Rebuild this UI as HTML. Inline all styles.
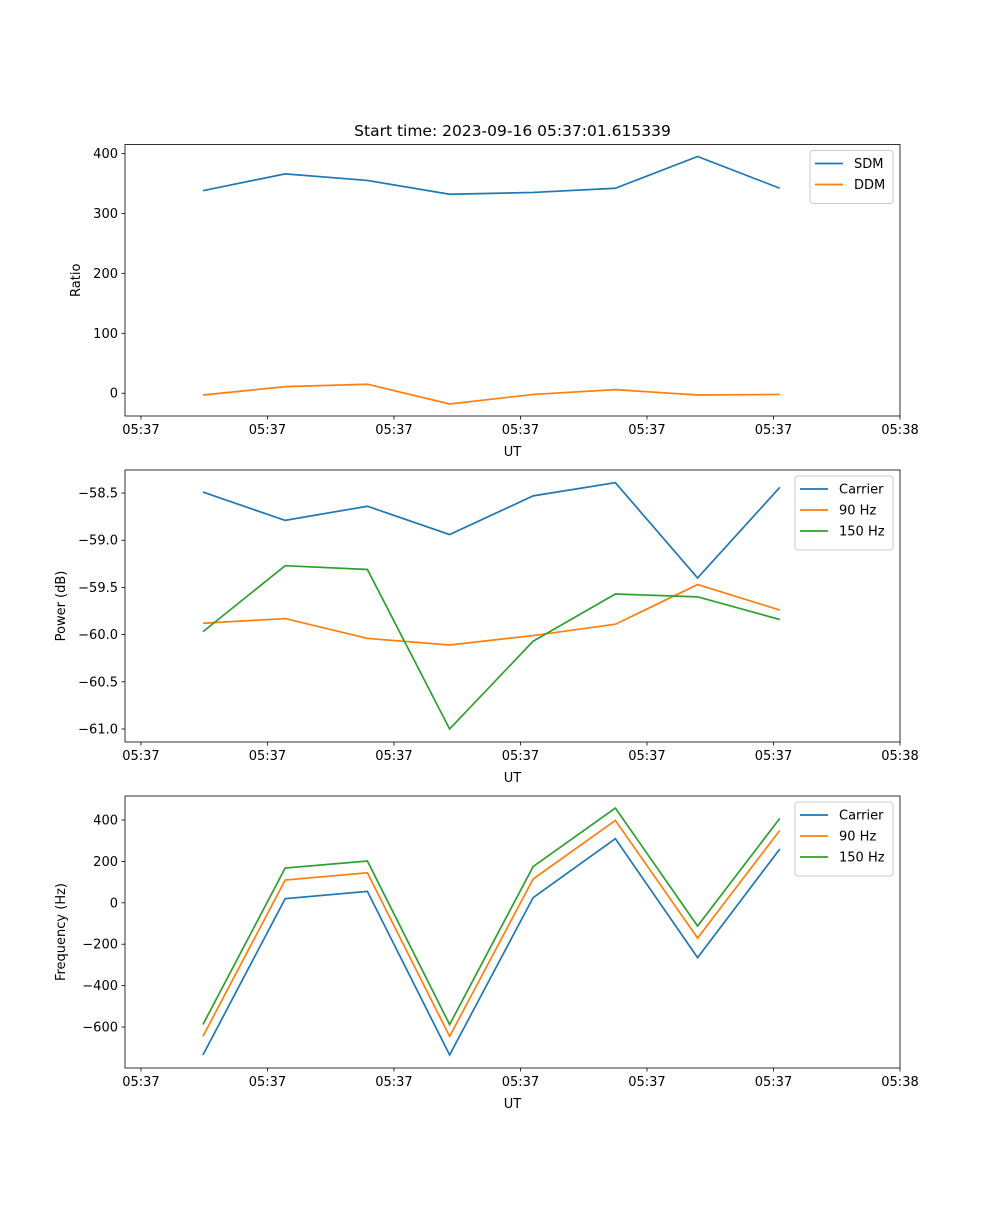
<!DOCTYPE html>
<html><head><meta charset="utf-8"><style>
body{margin:0;background:#fff;}
svg text{font-family:"DejaVu Sans","Liberation Sans",sans-serif;font-size:13px;fill:#000;}
</style></head><body>
<svg id="fig" width="1000" height="1200" xmlns="http://www.w3.org/2000/svg">
<rect width="1000" height="1200" fill="#fff"/>
<text x="512.5" y="136" text-anchor="middle" style="font-size:15.5px">Start time: 2023-09-16 05:37:01.615339</text>
</svg>
<script>
const times = [4.9, 11.4, 17.9, 24.4, 31.0, 37.5, 44.0, 50.5];
const xTicks = [0, 10, 20, 30, 40, 50, 60];
const xTickLabels = ["05:37","05:37","05:37","05:37","05:37","05:37","05:38"];
const sdm = [338, 366, 355, 332, 335, 342, 395, 342];
const ddm = [-3, 11, 15, -18, -2, 6, -3, -2];
const powCarrier = [-58.49, -58.79, -58.64, -58.94, -58.53, -58.39, -59.40, -58.44];
const pow90 = [-59.88, -59.83, -60.04, -60.11, -60.01, -59.89, -59.47, -59.74];
const pow150 = [-59.97, -59.27, -59.31, -61.00, -60.07, -59.57, -59.60, -59.84];
const freqCarrier = [-735, 20, 55, -735, 25, 310, -265, 260];
const freq90 = [-645, 110, 145, -645, 115, 398, -170, 350];
const freq150 = [-588, 168, 202, -588, 175, 458, -112, 408];
const yTicks1 = [0, 100, 200, 300, 400];
const yTicks2 = [-61.0, -60.5, -60.0, -59.5, -59.0, -58.5];
const yTicks3 = [-600, -400, -200, 0, 200, 400];

const NS = "http://www.w3.org/2000/svg";
const svg = document.getElementById("fig");
const C = ["#1f77b4", "#ff7f0e", "#2ca02c"];
function mk(tag, attrs, parent) {
  const e = document.createElementNS(NS, tag);
  for (const k in attrs) e.setAttribute(k, attrs[k]);
  (parent || svg).appendChild(e);
  return e;
}
function panel(id, top, bottom, ymin, ymax, yTicks, fmt, ylabel, series, names, legendW) {
  const L = 125, R = 900, xmin = -1.26, xmax = 60;
  const xs = v => L + (v - xmin) / (xmax - xmin) * (R - L);
  const ys = v => bottom - (v - ymin) / (ymax - ymin) * (bottom - top);
  const g = mk("g", {});
  
  
  series.forEach((s, i) => {
    const pl = mk("polyline", {points: s.map((v, j) => xs(times[j]) + "," + ys(v)).join(" "), fill: "none", stroke: C[i], "stroke-width": 1.7}, g);
    
    
  });
  const fr = mk("rect", {x: L, y: top, width: R - L, height: bottom - top, fill: "none", stroke: "#000", "stroke-width": 0.8}, g);
  
  
  xTicks.forEach((t, i) => {
    const x = xs(t);
    mk("line", {x1: x, x2: x, y1: bottom, y2: bottom + 3.5, stroke: "#000", "stroke-width": 0.8}, g);
    const tx = mk("text", {x: x, y: bottom + 18, "text-anchor": "middle"}, g);
    tx.textContent = xTickLabels[i];
    
    
  });
  yTicks.forEach(t => {
    const y = ys(t);
    mk("line", {x1: L - 3.5, x2: L, y1: y, y2: y, stroke: "#000", "stroke-width": 0.8}, g);
    const tx = mk("text", {x: L - 7, y: y + 4.5, "text-anchor": "end"}, g);
    tx.textContent = fmt(t);
    
    
  });
  const xl = mk("text", {x: (L + R) / 2, y: bottom + 40, "text-anchor": "middle"}, g);
  xl.textContent = "UT";
  
  
  const ymid = (top + bottom) / 2;
  const lx = ylabel === "Ratio" ? 80 : 65;
  const yl = mk("text", {x: lx, y: ymid, "text-anchor": "middle", transform: "rotate(-90 " + lx + " " + ymid + ")"}, g);
  yl.textContent = ylabel;
  
  
  const lg = mk("g", {}, g);
  
  
  const bx = R - 7 - legendW, by = top + 6;
  mk("rect", {x: bx, y: by, width: legendW, height: 11 + 21 * names.length, rx: 3, fill: "#fff", stroke: "#ccc", "stroke-width": 1}, lg);
  names.forEach((n, i) => {
    const y = by + 13 + 21 * i;
    mk("line", {x1: bx + 5, x2: bx + 33, y1: y, y2: y, stroke: C[i], "stroke-width": 1.7}, lg);
    const t = mk("text", {x: bx + 44, y: y + 4.5}, lg);
    t.textContent = n;
    
    
  });
}
panel("ratio", 144.5, 416, -38, 415, yTicks1, v => String(v), "Ratio", [sdm, ddm], ["SDM", "DDM"], 83);
panel("power", 470, 742, -61.138, -58.256, yTicks2, v => (v < 0 ? "\u2212" : "") + Math.abs(v).toFixed(1), "Power (dB)", [powCarrier, pow90, pow150], ["Carrier", "90 Hz", "150 Hz"], 98);
panel("frequency", 796, 1068, -798, 516, yTicks3, v => (v < 0 ? "\u2212" : "") + Math.abs(v), "Frequency (Hz)", [freqCarrier, freq90, freq150], ["Carrier", "90 Hz", "150 Hz"], 98);
</script>
</body></html>
